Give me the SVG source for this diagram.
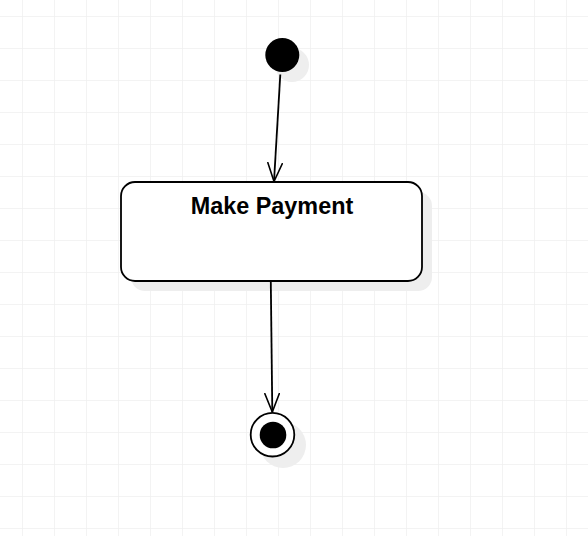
<svg xmlns="http://www.w3.org/2000/svg" width="588" height="536" viewBox="0 0 588 536">
<defs>
<pattern id="grid" x="22" y="16" width="32" height="32" patternUnits="userSpaceOnUse">
<path d="M0 0H32M0 0V32" fill="none" stroke="#f0f0f0" stroke-width="1.5"/>
</pattern>
<marker id="open" viewBox="0 0 20 16" refX="19" refY="8" markerWidth="20" markerHeight="16" markerUnits="userSpaceOnUse" orient="auto">
<path d="M0 0.5L19 8L0 15.5" fill="none" stroke="#000" stroke-width="1.6"/>
</marker>
</defs>
<style>
.shadow{fill:#eeeeee}
.edge{fill:none;stroke:#000;stroke-width:1.8}
.label{font-family:"Liberation Sans",Arial,sans-serif;font-weight:bold;font-size:23.4px;fill:#000}
</style>
<rect width="588" height="536" fill="#fff"/>
<rect width="588" height="536" fill="url(#grid)"/>
<g id="initial">
<circle class="shadow" cx="292" cy="65" r="17"/>
<circle cx="282.3" cy="55" r="17" fill="#000"/>
</g>
<g id="make-payment">
<rect class="shadow" x="131" y="192" width="301" height="99" rx="14"/>
<rect x="121" y="182" width="301" height="99" rx="14" fill="#fff" stroke="#000" stroke-width="1.8"/>
<text class="label" x="272" y="213.5" text-anchor="middle">Make Payment</text>
</g>
<g id="final">
<circle class="shadow" cx="283" cy="445" r="23"/>
<circle cx="272.5" cy="434.7" r="21.8" fill="#fff" stroke="#000" stroke-width="1.8"/>
<circle cx="273" cy="435" r="13.3" fill="#000"/>
</g>
<g id="connectors">
<path class="edge" d="M280.3 74.5L274 181.5" marker-end="url(#open)"/>
<path class="edge" d="M270.8 282L272.3 412" marker-end="url(#open)"/>
</g>
</svg>
